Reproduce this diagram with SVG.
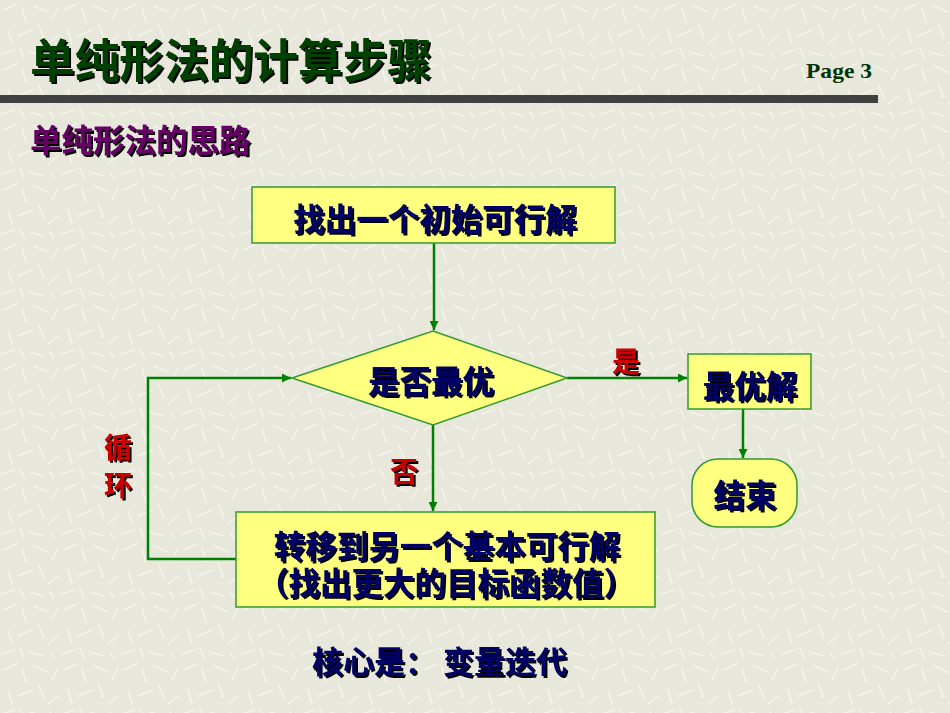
<svg xmlns="http://www.w3.org/2000/svg" width="950" height="713" viewBox="0 0 950 713">
<defs>
<marker id="ah" viewBox="0 0 10 10" refX="10" refY="5" markerWidth="9" markerHeight="9" markerUnits="userSpaceOnUse" orient="auto">
<path d="M0,0 L10,5 L0,10 Z" fill="#008000"/>
</marker>
<filter id="ds" x="-10%" y="-20%" width="130%" height="150%">
<feOffset in="SourceAlpha" dx="1.8" dy="1.8" result="o"/>
<feFlood flood-color="#000000"/>
<feComposite in2="o" operator="in" result="s"/>
<feMerge><feMergeNode in="s"/><feMergeNode in="SourceGraphic"/></feMerge>
</filter>
<pattern id="tex" width="60" height="60" patternUnits="userSpaceOnUse">
<rect width="60" height="60" fill="#e7e7db"/>
<g stroke="#f4f4ea" stroke-width="1.6" stroke-linecap="round">
<path d="M4,10 L16,4"/><path d="M22,8 L26,22"/><path d="M34,6 L48,12"/><path d="M52,20 L58,8"/>
<path d="M8,30 L12,44"/><path d="M18,36 L32,30"/><path d="M38,24 L44,38"/><path d="M48,44 L58,36"/>
<path d="M2,54 L14,50"/><path d="M20,48 L24,58"/><path d="M30,52 L44,56"/><path d="M50,52 L54,58"/>
</g>
</pattern>
<style>
.cn{font-family:"Noto Sans CJK SC","Liberation Sans",sans-serif;font-weight:bold;filter:url(#ds);}
.nv{fill:#000066;font-size:31.5px;}
.rd{fill:#cc0000;font-size:28px;}
.box{fill:#ffff80;stroke:#339933;stroke-width:1.5;}
.ln{fill:none;stroke:#008000;stroke-width:2.5;}
</style>
</defs>
<rect width="950" height="713" fill="url(#tex)"/>
<g id="header">
<text class="cn" x="30" y="77" font-size="46" textLength="402" lengthAdjust="spacingAndGlyphs" fill="#004000">单纯形法的计算步骤</text>
<text x="806" y="78" font-family="Liberation Serif, serif" font-weight="bold" font-size="22" textLength="66" lengthAdjust="spacingAndGlyphs" fill="#003300">Page 3</text>
<rect x="0" y="95" width="878" height="8" fill="#404040"/>
<text class="cn" x="30" y="152" font-size="31.5" fill="#660066">单纯形法的思路</text>
</g>
<g id="connectors">
<line class="ln" x1="434" y1="243" x2="434" y2="330" marker-end="url(#ah)"/>
<line class="ln" x1="567" y1="378" x2="687" y2="378" marker-end="url(#ah)"/>
<line class="ln" x1="743" y1="409" x2="743" y2="458" marker-end="url(#ah)"/>
<line class="ln" x1="433" y1="425" x2="433" y2="511" marker-end="url(#ah)"/>
<polyline class="ln" points="236,559 148,559 148,378 291,378" marker-end="url(#ah)"/>
<text class="cn rd" x="612" y="372">是</text>
<text class="cn rd" x="390" y="482">否</text>
<text class="cn rd" x="104" y="458">循</text>
<text class="cn rd" x="104" y="496">环</text>
</g>
<g id="start">
<rect class="box" x="252" y="187" width="363" height="56"/>
<text class="cn nv" x="435" y="231" text-anchor="middle">找出一个初始可行解</text>
</g>
<g id="decision">
<polygon class="box" points="433,331 567,378 433,425 292,378"/>
<text class="cn nv" x="431" y="393" text-anchor="middle">是否最优</text>
</g>
<g id="optimal">
<rect class="box" x="688" y="354" width="123" height="55"/>
<text class="cn nv" x="750" y="398" text-anchor="middle">最优解</text>
</g>
<g id="end">
<rect class="box" x="692" y="459" width="105" height="68" rx="26" ry="26"/>
<text class="cn nv" x="745" y="507" text-anchor="middle">结束</text>
</g>
<g id="move">
<rect class="box" x="236" y="512" width="419" height="95"/>
<text class="cn nv" text-anchor="middle"><tspan x="447" y="558">转移到另一个基本可行解</tspan><tspan x="446" y="595">（找出更大的目标函数值）</tspan></text>
</g>
<g id="footer">
<text class="cn nv" x="312" y="673" style="font-size:31px">核心是： 变量迭代</text>
</g>
</svg>
